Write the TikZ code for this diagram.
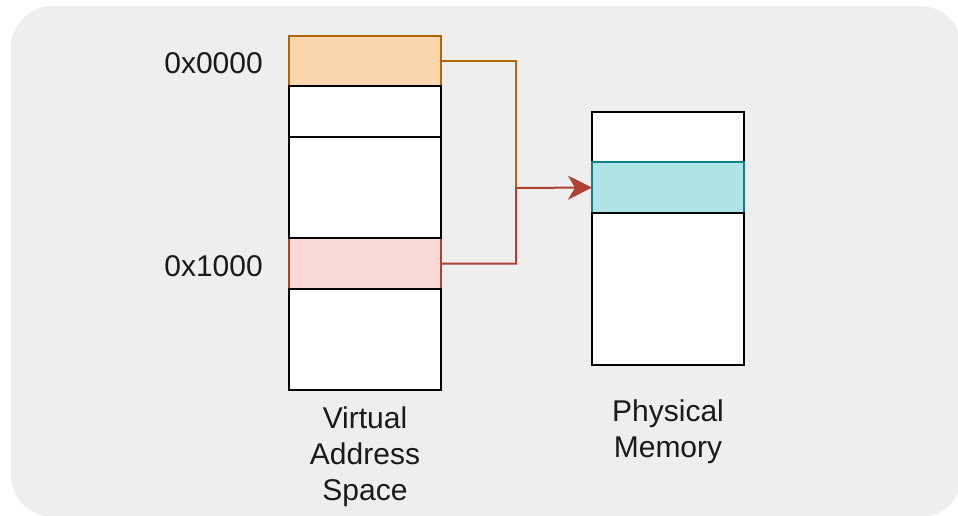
\documentclass[tikz,border=0pt]{standalone}
\usepackage{fontspec}
\setmainfont{Liberation Sans}
\usetikzlibrary{arrows.meta}

\definecolor{panelgray}{HTML}{EEEEEE}
\definecolor{orangefill}{HTML}{FAD7AC}
\definecolor{orangeline}{HTML}{B46504}
\definecolor{redfill}{HTML}{FAD9D5}
\definecolor{redline}{HTML}{AE4132}
\definecolor{tealfill}{HTML}{B0E3E6}
\definecolor{tealline}{HTML}{0E8088}
\definecolor{inktext}{HTML}{1A1A1A}

\tikzset{
  cell/.style={draw=black, fill=white, line width=2pt, minimum width=152pt,
    inner sep=0pt, outer sep=0pt, anchor=north west},
  label/.style={text=inktext, font=\fontsize{30}{36}\selectfont, inner sep=0pt},
  link/.style={line width=2pt},
}

\begin{document}
\begin{tikzpicture}[x=1pt, y=-1pt]
  \useasboundingbox (0,0) rectangle (958,515);
  % panel behind everything
  \fill[panelgray, rounded corners=42pt] (11,6) rectangle (962,517);

  % virtual address space (coloured cells first, plain cells on top)
  \node[cell, fill=orangefill, draw=orangeline, minimum height=50pt] (v0) at (289,36) {};
  \node[cell, fill=redfill, draw=redline, minimum height=51pt] (v3) at (289,238) {};
  \node[cell, minimum height=51pt] (v1) at (289,86) {};
  \node[cell, minimum height=101pt] (v2) at (289,137) {};
  \node[cell, minimum height=101pt] (v4) at (289,289) {};

  % physical memory
  \node[cell, minimum height=50pt] (p0) at (592,112) {};
  \node[cell, fill=tealfill, draw=tealline, minimum height=51pt] (p1) at (592,162) {};
  \node[cell, minimum height=152pt] (p2) at (592,213) {};

  % address labels
  \node[label, anchor=east] (a0) at (263,63) {0x0000};
  \node[label, anchor=east] (a1) at (263,266) {0x1000};

  % captions
  \node[label, align=center] (vcap) at (365,457) {Virtual\\Address\\Space};
  \node[label, align=center] (pcap) at (668,432) {Physical\\Memory};

  % mappings to the shared physical frame
  \coordinate (join) at (516,188);
  \draw[link, orangeline] (v0.east) -| (join);
  \draw[link, redline, -{Stealth[length=24pt, width=24pt, inset=7pt]}]
    (v3.east) -| (join) -- (p1.west);
\end{tikzpicture}
\end{document}
